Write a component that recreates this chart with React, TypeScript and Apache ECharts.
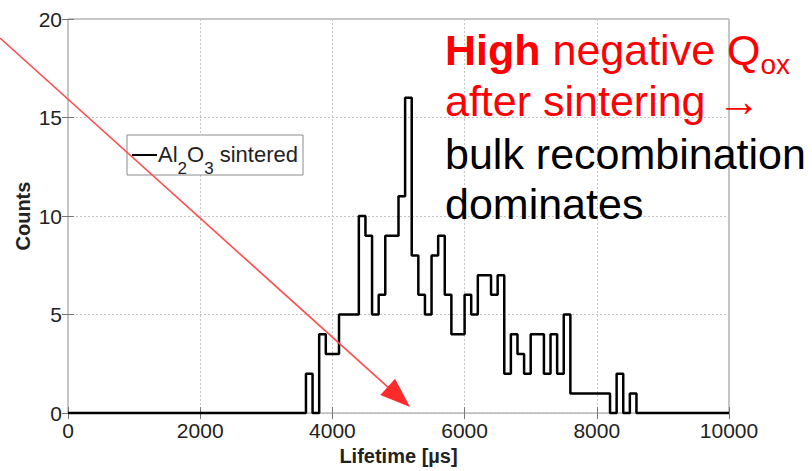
import React, { useEffect, useRef } from "react";
import * as echarts from "echarts";

// ---- data ----
const binStarts = [
  3600, 3700, 3800, 3900, 4000, 4100, 4200, 4300, 4400, 4500,
  4600, 4700, 4800, 4900, 5000, 5100, 5200, 5300, 5400, 5500,
  5600, 5700, 5800, 5900, 6000, 6100, 6200, 6300, 6400, 6500,
  6600, 6700, 6800, 6900, 7000, 7100, 7200, 7300, 7400, 7500,
  7600, 7700, 7800, 7900, 8000, 8100, 8200, 8300, 8400, 8500, 8600,
];
const counts = [
  2, 0, 4, 3, 3, 5, 5, 5, 10, 9,
  5, 6, 9, 9, 11, 16, 8, 6, 5, 8,
  9, 6, 4, 4, 6, 5, 7, 7, 6, 7,
  2, 4, 3, 2, 4, 4, 2, 4, 2, 5,
  1, 1, 1, 1, 1, 1, 0, 2, 0, 1, 0,
];
const xRange = [0, 10000];
const yRange = [0, 20];
const xStep = 2000;
const yStep = 5;
const xName = "Lifetime [µs]";
const yName = "Counts";
const seriesName = "Al2O3 sintered";

const FONT = '"Liberation Sans", Arial, Helvetica, sans-serif';

function measure(text: string, size: number, weight = "normal") {
  const c = document.createElement("canvas").getContext("2d")!;
  c.font = `${weight} ${size}px ${FONT}`;
  return c.measureText(text).width;
}

export default function App() {
  const ref = useRef<HTMLDivElement>(null);

  useEffect(() => {
    if (!ref.current) return;
    const chart = echarts.init(ref.current, undefined, { renderer: "svg" });

    const stepData: [number, number][] = [[xRange[0], 0]];
    binStarts.forEach((b, i) => stepData.push([b, counts[i]]));
    stepData.push([xRange[1], 0]);

    // annotation text layout
    const annX = 445;
    const fs = 43;
    const subFs = 28;
    const wHigh = measure("High", fs, "bold");
    const wNeg = measure(" negative Q", fs);
    const red = "#ff0000";

    // legend text layout
    const lgFs = 22;
    const lgSub = 17;
    const lgX = 158;
    const wAl = measure("Al", lgFs);
    const w2 = measure("2", lgSub);
    const wO = measure("O", lgFs);
    const w3 = measure("3", lgSub);

    // arrow
    const a0 = [0, 38];
    const tip = [410, 407];
    const dx = tip[0] - a0[0];
    const dy = tip[1] - a0[1];
    const len = Math.hypot(dx, dy);
    const ux = dx / len;
    const uy = dy / len;
    const headLen = 30;
    const headHalf = 11;
    const bx = tip[0] - ux * headLen;
    const by = tip[1] - uy * headLen;

    const axisCommon = {
      type: "value" as const,
      axisLine: { show: false },
    };
    const plain = (v: number) => String(v);

    chart.setOption({
      animation: false,
      backgroundColor: "#ffffff",
      grid: {
        left: 68,
        right: 83,
        top: 19,
        bottom: 49,
        show: true,
        borderColor: "#8c8c8c",
        borderWidth: 1,
        backgroundColor: "transparent",
      },
      xAxis: [
        {
          ...axisCommon,
          min: xRange[0],
          max: xRange[1],
          interval: xStep,
          position: "bottom",
          axisTick: { show: true, inside: true, length: 6, lineStyle: { color: "#777" } },
          axisLabel: { fontSize: 21, color: "#222", margin: 7, fontFamily: FONT, formatter: plain },
          splitLine: { show: true, lineStyle: { color: "#c4c4c4", type: [2, 2], width: 1 } },
          name: xName,
          nameLocation: "middle",
          nameGap: 29,
          nameTextStyle: { fontSize: 20, fontWeight: "bold", color: "#222", fontFamily: FONT },
        },
        {
          ...axisCommon,
          min: xRange[0],
          max: xRange[1],
          interval: xStep,
          position: "top",
          axisTick: { show: true, inside: true, length: 6, lineStyle: { color: "#777" } },
          axisLabel: { show: false },
          splitLine: { show: false },
        },
      ],
      yAxis: [
        {
          ...axisCommon,
          min: yRange[0],
          max: yRange[1],
          interval: yStep,
          position: "left",
          axisTick: { show: true, inside: true, length: 6, lineStyle: { color: "#777" } },
          axisLabel: { fontSize: 21, color: "#222", margin: 6, fontFamily: FONT, formatter: plain },
          splitLine: { show: true, lineStyle: { color: "#c4c4c4", type: [2, 2], width: 1 } },
          name: yName,
          nameLocation: "middle",
          nameGap: 35,
          nameMoveOverlap: false,
          nameRotate: 90,
          nameTextStyle: { fontSize: 20, fontWeight: "bold", color: "#222", fontFamily: FONT },
        },
        {
          ...axisCommon,
          min: yRange[0],
          max: yRange[1],
          interval: yStep,
          position: "right",
          axisTick: { show: true, inside: true, length: 6, lineStyle: { color: "#777" } },
          axisLabel: { show: false },
          splitLine: { show: false },
        },
      ],
      series: [
        {
          name: seriesName,
          type: "line",
          step: "end",
          data: stepData,
          symbol: "none",
          clip: false,
          xAxisIndex: 0,
          yAxisIndex: 0,
          lineStyle: { color: "#000", width: 2.5 },
        },
      ],
      graphic: [
        // legend box
        {
          type: "rect",
          shape: { x: 127, y: 135, width: 176, height: 40 },
          style: { fill: "#fff", stroke: "#8c8c8c", lineWidth: 1 },
          z: 10,
        },
        {
          type: "line",
          shape: { x1: 132, y1: 155, x2: 157, y2: 155 },
          style: { stroke: "#000", lineWidth: 2 },
          z: 11,
        },
        { type: "text", x: lgX, y: 154, z: 11, style: { text: "Al", fontSize: lgFs, fontFamily: FONT, fill: "#222", verticalAlign: "middle" } },
        { type: "text", x: lgX + wAl, y: 168, z: 11, style: { text: "2", fontSize: lgSub, fontFamily: FONT, fill: "#222", verticalAlign: "middle" } },
        { type: "text", x: lgX + wAl + w2, y: 154, z: 11, style: { text: "O", fontSize: lgFs, fontFamily: FONT, fill: "#222", verticalAlign: "middle" } },
        { type: "text", x: lgX + wAl + w2 + wO, y: 168, z: 11, style: { text: "3", fontSize: lgSub, fontFamily: FONT, fill: "#222", verticalAlign: "middle" } },
        { type: "text", x: lgX + wAl + w2 + wO + w3, y: 154, z: 11, style: { text: " sintered", fontSize: lgFs, fontFamily: FONT, fill: "#222", verticalAlign: "middle" } },
        // red arrow
        {
          type: "line",
          shape: { x1: a0[0], y1: a0[1], x2: bx + ux * 4, y2: by + uy * 4 },
          style: { stroke: "#ff4d4d", lineWidth: 1.6 },
          z: 20,
        },
        {
          type: "polygon",
          shape: {
            points: [
              [tip[0], tip[1]],
              [bx - uy * headHalf, by + ux * headHalf],
              [bx + uy * headHalf, by - ux * headHalf],
            ],
          },
          style: { fill: "#ff2b2b" },
          z: 20,
        },
        // annotation text
        { type: "text", x: annX, y: 50, z: 20, style: { text: "High", fontSize: fs, fontWeight: "bold", fontFamily: FONT, fill: red, verticalAlign: "middle" } },
        { type: "text", x: annX + wHigh, y: 50, z: 20, style: { text: " negative Q", fontSize: fs, fontFamily: FONT, fill: red, verticalAlign: "middle" } },
        { type: "text", x: annX + wHigh + wNeg, y: 64, z: 20, style: { text: "ox", fontSize: subFs, fontFamily: FONT, fill: red, verticalAlign: "middle" } },
        { type: "text", x: annX, y: 101, z: 20, style: { text: "after sintering →", fontSize: fs, fontFamily: FONT, fill: red, verticalAlign: "middle" } },
        { type: "text", x: annX, y: 154, z: 20, style: { text: "bulk recombination", fontSize: fs, fontFamily: FONT, fill: "#000", verticalAlign: "middle" } },
        { type: "text", x: annX, y: 204, z: 20, style: { text: "dominates", fontSize: fs, fontFamily: FONT, fill: "#000", verticalAlign: "middle" } },
      ],
    });

    return () => chart.dispose();
  }, []);

  return (
    <div
      ref={ref}
      style={{ position: "fixed", left: 0, top: 0, width: 812, height: 471, background: "#fff" }}
    />
  );
}
